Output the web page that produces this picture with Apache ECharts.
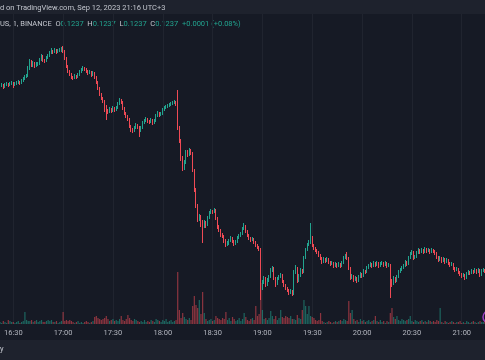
<!DOCTYPE html>
<html><head><meta charset="utf-8">
<script src="https://cdn.jsdelivr.net/npm/echarts@6/dist/echarts.min.js"></script>
<style>html,body{margin:0;padding:0;background:#161a25}#c{width:485px;height:360px}</style>
</head><body><div id="c"></div>
<script>
// 1-minute candles, Sep 12 2023, UTC+3, starting 16:22. Prices in 1e-5 USDT.
const startMinute = 16 * 60 + 22;
const firstOpen = 12555;
const closes = [
12556,12557,12555,12557,12558,12557,12558,12559,12557,12558,
12559,12560,12559,12561,12563,12565,12566,12573,12580,12577,
12579,12576,12578,12578,12582,12586,12582,12581,12584,12586,
12589,12591,12590,12592,12590,12591,12592,12593,12591,12584,
12576,12571,12568,12565,12564,12566,12565,12567,12570,12572,
12574,12573,12571,12569,12570,12567,12569,12565,12560,12554,
12548,12544,12541,12536,12532,12530,12533,12531,12534,12532,
12534,12538,12542,12540,12534,12529,12526,12523,12516,12513,
12511,12514,12517,12515,12511,12514,12519,12521,12523,12521,
12520,12522,12519,12521,12526,12529,12527,12528,12532,12534,
12535,12536,12537,12538,12539,12540,12538,12514,12502,12484,
12474,12480,12490,12487,12492,12489,12472,12452,12437,12424,
12426,12420,12416,12420,12417,12424,12429,12431,12430,12432,
12424,12416,12412,12408,12406,12402,12398,12399,12401,12404,
12401,12398,12400,12404,12406,12408,12413,12416,12411,12407,
12404,12402,12403,12400,12397,12395,12393,12355,12360,12364,
12358,12362,12365,12372,12374,12364,12358,12363,12365,12367,
12361,12357,12354,12352,12349,12351,12348,12370,12374,12362,
12366,12372,12370,12384,12392,12397,12400,12405,12397,12394,
12392,12390,12387,12384,12380,12383,12381,12383,12380,12378,
12379,12376,12378,12376,12378,12376,12379,12384,12386,12384,
12374,12364,12366,12362,12364,12361,12365,12368,12366,12371,
12370,12374,12376,12378,12376,12379,12377,12379,12376,12378,
12379,12377,12379,12376,12377,12362,12358,12364,12361,12365,
12370,12372,12374,12376,12380,12378,12384,12388,12390,12384,
12385,12389,12392,12390,12392,12390,12393,12391,12392,12390,
12392,12391,12389,12385,12382,12384,12381,12383,12380,12382,
12379,12377,12378,12374,12372,12373,12370,12368,12366,12367,
12364,12368,12370,12369,12371,12370,12372,12370,12372,12367,
12371,12372,12370];
const highs = [
12558,12559,12558,12559,12560,12559,12560,12561,12560,12560,
12561,12562,12561,12563,12565,12567,12568,12576,12583,12582,
12581,12580,12580,12580,12584,12588,12587,12583,12586,12588,
12591,12594,12592,12594,12593,12593,12594,12595,12596,12592,
12585,12577,12572,12569,12566,12568,12567,12569,12572,12574,
12576,12575,12574,12572,12572,12571,12571,12570,12566,12561,
12555,12549,12545,12542,12537,12533,12535,12534,12536,12535,
12536,12540,12544,12543,12541,12535,12530,12527,12524,12517,
12514,12516,12519,12518,12516,12516,12521,12523,12525,12524,
12522,12524,12523,12523,12528,12531,12530,12530,12534,12536,
12537,12538,12539,12540,12541,12542,12541,12552,12516,12503,
12486,12482,12492,12492,12494,12493,12490,12473,12454,12438,
12428,12427,12422,12422,12421,12426,12431,12433,12432,12434,
12433,12425,12417,12413,12409,12407,12403,12401,12403,12406,
12405,12402,12402,12406,12408,12410,12415,12419,12417,12412,
12408,12405,12405,12404,12401,12398,12396,12394,12362,12366,
12365,12364,12367,12374,12376,12375,12365,12365,12367,12369,
12368,12362,12358,12355,12353,12353,12352,12372,12377,12375,
12368,12374,12373,12386,12394,12399,12402,12419,12406,12398,
12395,12393,12391,12388,12385,12385,12384,12385,12384,12381,
12381,12380,12380,12379,12380,12379,12381,12386,12388,12390,
12385,12375,12368,12367,12366,12365,12367,12370,12369,12373,
12372,12376,12378,12380,12379,12381,12380,12381,12380,12380,
12381,12380,12381,12380,12379,12378,12363,12366,12365,12367,
12372,12374,12376,12378,12382,12381,12386,12390,12392,12391,
12387,12391,12394,12393,12394,12393,12395,12394,12394,12393,
12394,12393,12392,12390,12386,12386,12385,12385,12384,12384,
12383,12380,12380,12379,12375,12375,12374,12371,12369,12369,
12368,12370,12372,12371,12373,12372,12374,12373,12374,12373,
12373,12374,12373];
const lows = [
12553,12555,12553,12554,12556,12555,12556,12557,12554,12556,
12557,12558,12557,12558,12560,12562,12564,12565,12572,12575,
12575,12574,12575,12576,12577,12581,12580,12579,12580,12583,
12585,12588,12588,12589,12588,12589,12590,12590,12589,12582,
12574,12569,12566,12563,12562,12563,12563,12564,12566,12569,
12571,12571,12569,12567,12568,12565,12566,12563,12558,12552,
12546,12542,12539,12530,12522,12528,12529,12529,12530,12530,
12531,12533,12537,12538,12532,12527,12524,12521,12514,12510,
12509,12510,12513,12513,12505,12510,12513,12518,12520,12519,
12518,12519,12517,12518,12520,12525,12525,12526,12527,12531,
12533,12534,12535,12536,12537,12538,12536,12512,12499,12481,
12471,12472,12478,12485,12486,12487,12470,12450,12434,12420,
12421,12415,12399,12414,12414,12416,12423,12428,12428,12429,
12422,12413,12410,12405,12404,12399,12395,12396,12397,12400,
12399,12396,12397,12399,12403,12405,12407,12412,12409,12405,
12402,12400,12401,12398,12395,12393,12391,12342,12352,12358,
12355,12356,12360,12364,12370,12362,12355,12357,12362,12364,
12359,12355,12352,12350,12347,12348,12346,12347,12368,12359,
12360,12365,12368,12369,12383,12391,12396,12398,12395,12392,
12390,12388,12385,12382,12378,12379,12379,12380,12378,12376,
12377,12374,12375,12374,12375,12374,12375,12378,12383,12382,
12372,12362,12363,12360,12361,12359,12360,12364,12364,12365,
12368,12369,12373,12375,12374,12375,12375,12376,12374,12375,
12377,12375,12376,12374,12375,12344,12355,12357,12359,12360,
12364,12369,12371,12373,12375,12376,12377,12383,12387,12382,
12383,12384,12388,12388,12389,12388,12389,12389,12390,12388,
12389,12389,12387,12383,12380,12381,12379,12380,12378,12379,
12377,12375,12376,12372,12370,12371,12368,12366,12364,12365,
12362,12363,12367,12367,12368,12368,12369,12368,12369,12365,
12366,12370,12369];
// volume in thousands
const volumes = [
40,20,60,40,20,80,60,40,40,20,
40,60,20,40,60,240,80,60,60,80,
40,60,80,40,60,80,40,40,60,80,
60,80,40,40,60,20,40,60,240,60,
80,60,80,60,40,20,40,60,20,40,
20,40,60,40,20,40,60,140,160,120,
100,80,100,120,160,100,60,80,100,60,
80,60,100,160,80,60,100,180,120,80,
60,100,80,60,40,60,40,80,40,60,
40,80,60,40,100,80,60,40,80,60,
100,40,60,80,40,60,80,1040,280,120,
220,140,100,80,120,80,360,560,380,320,
480,200,640,220,100,60,80,100,60,80,
160,120,100,80,120,100,240,80,120,60,
140,100,60,80,120,60,100,220,140,80,
60,100,120,80,360,160,200,820,280,100,
120,80,120,260,160,100,160,80,120,280,
140,120,160,140,120,160,100,100,80,180,
120,100,280,480,360,200,360,160,140,120,
80,60,80,220,60,40,20,40,60,40,
20,40,60,40,60,80,60,100,80,60,
460,220,280,100,60,80,40,100,60,80,
40,60,80,40,60,80,160,60,40,80,
40,60,20,60,40,220,320,140,100,160,
80,60,100,80,60,80,100,160,60,40,
80,60,40,60,80,40,60,40,80,60,
40,60,40,80,60,320,40,20,60,40,
20,40,60,40,20,40,40,60,20,40,
20,60,40,20,40,60,40,20,40,60,
40,40,60];
const gridLevels = [12582, 12527, 12471, 12444, 12379, 12331];

const UP = '#22a48f', DOWN = '#ef4a55';
const pad = n => (n < 10 ? '0' : '') + n;
const categories = closes.map((_, i) => { const m = startMinute + i; return pad(Math.floor(m / 60)) + ':' + pad(m % 60); });
const opens = [firstOpen].concat(closes.slice(0, -1));
const candles = closes.map((c, i) => [opens[i] / 1e5, c / 1e5, lows[i] / 1e5, highs[i] / 1e5]);
const volData = volumes.map((v, i) => ({
  value: v,
  itemStyle: { color: closes[i] >= opens[i] ? 'rgba(34,164,143,0.55)' : 'rgba(239,74,85,0.55)' }
}));
const isMajor = (idx, val) => /:(00|30)$/.test(val);

const chart = echarts.init(document.getElementById('c'), null, { renderer: 'canvas' });
const FONT = 'Roboto, "DejaVu Sans", sans-serif';
chart.setOption({
  backgroundColor: '#161a25',
  animation: false,
  grid: { left: 0, right: 0, top: 14, bottom: 36 },
  xAxis: {
    type: 'category', data: categories, boundaryGap: false,
    axisLine: { show: false }, axisTick: { show: false },
    axisLabel: { interval: isMajor, color: '#b2b5be', fontSize: 7.5, fontFamily: FONT, margin: 5 },
    splitLine: { show: true, interval: isMajor, lineStyle: { color: '#20242f', width: 1 } }
  },
  yAxis: [
    { type: 'value', min: 0.12318, max: 0.12628, show: false, splitLine: { show: false } },
    { type: 'value', min: 0, max: 6200, show: false, splitLine: { show: false } }
  ],
  series: [
    {
      type: 'line', data: [], z: 1, silent: true,
      markLine: {
        silent: true, symbol: 'none', label: { show: false },
        lineStyle: { color: '#20242f', width: 1, type: 'solid' },
        data: gridLevels.map(v => ({ yAxis: v / 1e5 }))
      }
    },
    {
      type: 'bar', yAxisIndex: 1, data: volData, barWidth: 1.2, z: 2, silent: true
    },
    {
      type: 'candlestick', data: candles, z: 3, barWidth: 0.9, silent: true,
      itemStyle: { color: UP, color0: DOWN, borderColor: UP, borderColor0: DOWN, borderWidth: 1 }
    }
  ],
  graphic: [
    { type: 'rect', left: 0, top: 0, shape: { width: 485, height: 14 }, style: { fill: '#1e222d' } },
    { type: 'rect', left: 0, top: 340, shape: { width: 485, height: 20 }, style: { fill: '#1e222d' } },
    { type: 'text', left: 0, top: 4, style: { text: 'd on TradingView.com, Sep 12, 2023 21:16 UTC+3', fill: '#c3c6ce', font: '7.5px ' + FONT } },
    { type: 'text', left: 0, top: 20, style: {
      text: '{l|US, 1, BINANCE  O}{v|0.1237}{l|  H}{v|0.1237}{l|  L}{v|0.1237}{l|  C}{v|0.1237}{v|  +0.0001 (+0.08%)}',
      font: '7.5px ' + FONT,
      rich: { l: { fill: '#c3c6ce', font: '7.5px ' + FONT }, v: { fill: '#22a48f', font: '7.5px ' + FONT } }
    } },
    { type: 'text', left: 0, top: 345, style: { text: 'y', fill: '#c3c6ce', font: '7.5px ' + FONT } },
    { type: 'circle', shape: { cx: 489, cy: 317, r: 6 }, style: { fill: 'none', stroke: '#9b3fc4', lineWidth: 1.5 } }
  ]
});
</script></body></html>
